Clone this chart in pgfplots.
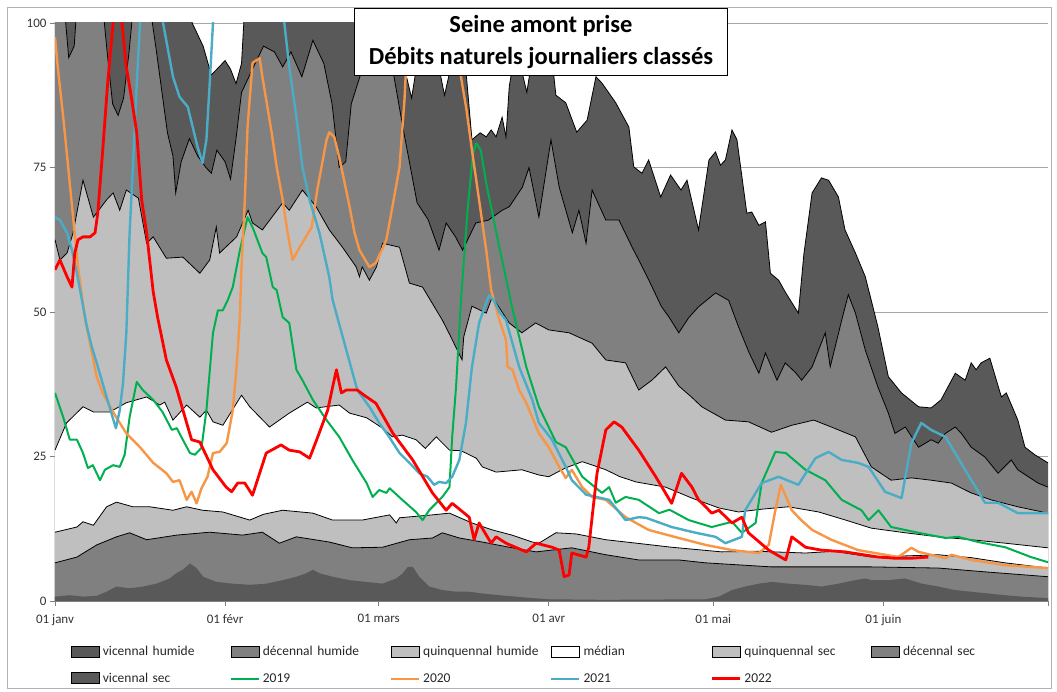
\documentclass[border=0pt]{standalone}
\usepackage{fontspec}
\setmainfont{Carlito}
\usepackage{pgfplots}
\usepackage{pgfplotstable}
\pgfplotsset{compat=1.18}

\definecolor{cDark}{RGB}{89,89,89}
\definecolor{cMid}{RGB}{128,128,128}
\definecolor{cLight}{RGB}{191,191,191}
\definecolor{cNineteen}{RGB}{0,176,80}
\definecolor{cTwenty}{RGB}{247,150,70}
\definecolor{cTwentyOne}{RGB}{75,172,198}
\definecolor{cTwentyTwo}{RGB}{255,0,0}

\pgfplotsset{
  bandleg/.style={legend image code/.code={\draw[##1,draw=black,line width=0.6pt] (0pt,-5pt) rectangle (28pt,6pt);}},
  lineleg/.style={legend image code/.code={\draw[##1] (0pt,0pt) -- (28pt,0pt);}},
}

% day of year (0 = 01 janv), flow
\pgfplotstableread{
day val
0 110
24 110
25 100
27 96
28.5 91
30 92.5
31 93.5
32 92
33 89.5
34 93
35 110
58 110
61 100
63 95
65 87
66.5 96
69 97
71 87.5
73 96
75 90.7
76 79.8
77.5 81
78.6 80.3
79.5 81.5
80.4 80.3
81.5 83.7
82.2 80.3
82.8 89
84 96
86 88
87.5 97
90 99
91.3 87.5
93.1 86.2
95.1 81.1
97 83.2
98.6 90.7
99.7 89.6
102.2 86.2
104.6 82
105.5 75.1
107 74
108.2 76.3
110.4 69.9
112.2 73.7
114.1 71.1
115.2 72.8
117.3 64.2
119.2 76.3
120.4 77.7
121.3 75.4
122.2 76.3
123.4 81.5
124.3 79.8
126.1 67.1
127 67.3
128.3 65
129.5 65.6
130.4 56.7
131.9 55.5
133.2 53.3
135.5 49.8
136.5 60
138 70.6
139.7 73.2
141 72.8
142.8 69.9
144 64.2
145.9 60.2
147.7 56.1
150 47.4
151.9 38.8
154.3 36
157.4 33.6
159.7 33.4
161.5 34.8
164.1 39.4
165.9 38.2
167 41.2
167.9 40
168.8 41.2
170.4 42
172.5 35.3
173.4 36
175.5 31.3
176.8 26.6
178.6 25.3
181 23.9
}\tabVH

\pgfplotstableread{
day val
0 110
1.5 105
2.5 94
3.5 96
4.5 110
8.5 105
9.5 95
10.5 86
11.5 84
12.5 87
13.5 95
14.5 105
17 105
18.5 95
19.5 88
20.5 81
21.5 77
22 70.6
23 76
24.5 80
26 77
27.5 75
28.5 74
29.5 78
31 76
32 73
33 80
34 88
36 92
38 96
40 95
41.5 92.4
43 95
45 90.7
47 97
49 93
50.5 86
51.8 75
53 76
54 86
56 92
58 95
61 95
63.4 82
66 68.9
68 66
70 60.7
71.3 65.4
73 63
74.3 60.7
76.7 65.4
79 65.9
81.5 67.6
82.8 68.2
85.2 71.6
86.4 75
88.2 66.4
90.4 79.8
91.9 71.6
94.3 63.7
95.5 67.6
96.8 61.9
97.9 71.1
100.4 65.9
102.8 65.9
105.2 61.2
106.4 59
108.5 55
110.5 51
112 49
113.7 46.4
115.5 49
117.3 50.9
120.4 53.3
122.8 52
124.6 47.4
126.5 43
128.3 39.4
129.5 42.9
131.6 38.2
133.1 41.2
135 39.5
136.1 38.2
138 40.5
140.4 46.4
141.3 40.5
143.4 48.6
144.6 53
145.9 49.8
147.7 43.4
150 37
151.9 32.5
153.1 29
155 30.1
157.4 26.6
159.7 27.9
161 27.3
162.3 29
164.1 30.1
165.2 29
167 26.6
169.5 24.9
171.9 22.1
174.3 24.4
175.5 22.7
177.4 21.5
179.2 20.4
181 19.7
}\tabDH

\pgfplotstableread{
day val
0 62.5
0.9 59
2.2 60.2
3.3 63.7
5.1 72.8
7 66.4
9.4 69.4
10.6 70.6
11.8 67.6
13 71.1
15.2 69.7
16.7 61.9
17.9 63
20.3 59.3
23.3 59.5
26.4 56.7
28.2 59
29.4 64.7
30 60.2
33.1 63
35.2 67.6
36 65.4
37.8 64.2
41.5 68.9
42.7 67.6
45.1 71.1
47.6 68.2
50 64.2
52.4 61.2
54.9 57.8
55.5 56.1
56 57.8
57.3 55.5
58.6 57.8
59.7 61.9
62.8 61.2
64.6 55
67 54.3
70.6 48.6
72 46
74.2 41.7
74.5 45.7
76 51
78.6 49.8
79.7 52.6
82.8 48.1
85.1 46.4
87.6 48.1
90 46.9
93.7 46.4
97.9 44.6
100.4 41.7
104 41.2
106.4 36.5
108.8 38.2
111.3 40.5
113.7 37.2
116 35.3
117.9 33.6
122.2 31.3
126.4 31
130.6 29.2
134.3 30.4
138.3 31.3
141.5 30.1
145.9 28.4
148.8 23.2
152.4 20.9
156.1 21.3
159.7 20.9
163.4 20.4
167 18.7
170.6 17.5
175.5 16.3
181 15.2
}\tabQH

\pgfplotstableread{
day val
0 26.1
2.1 30.8
5.1 33.6
7 32.7
10 32.7
13 34.3
16.7 35.3
19.1 33.9
20 34.4
21.5 31.3
24 33.9
26.4 31.8
27.6 33
28.8 31
30.6 30.4
34 35.6
35.5 33.6
39.1 30.1
42.7 32.5
46 34.4
47.6 33.4
51.8 33.9
53.7 32.5
56.8 31.7
59.7 29.9
61.5 28.4
63.3 28.7
65.8 27.9
67.5 26.4
69.5 28.4
71.9 26.1
74 26
76.8 24.7
77.9 23.2
80.4 22.3
85.1 22.7
88.2 21.8
90 21.5
93 23
96.1 24.1
98 23.5
100.4 22.7
103 21.5
105.9 20.6
111.3 19.7
116.1 17.8
121 16.1
124.6 15.4
129 15.9
133.7 16.3
139.2 15.4
144.1 14
148.8 12.6
155 11.8
161 11.1
167 10.6
173.2 10
181 9.2
}\tabMed

\pgfplotstableread{
day val
0 11.9
4 12.8
5.1 13.7
7 13.1
9.4 16.3
11.2 17.1
14.2 16.3
17.3 16.3
21.5 15.7
24 16.3
26.9 15.7
30.6 15.4
35.5 14
38 15
41.5 15.7
47 15.2
50.6 14
56 14
61 14.9
62.2 13.5
62.8 14.4
68.8 14.9
71.9 15.2
76 13.5
79.7 12.3
83.3 11.4
87 10.2
88.2 10
91.3 11.8
95 11.6
100.4 10.6
106 10
112.4 9.3
121.5 8.5
128 8.6
136.8 8.3
142 8.6
148.8 7.6
155 7.8
161 8
167 7.5
173.2 6.6
181 5.7
}\tabQS

\pgfplotstableread{
day val
0 6.6
4 7.6
7.6 9.7
11.2 11.1
13.6 11.8
16.7 10.6
22.2 11.4
28.2 11.9
34.2 11.4
37.8 11.9
40.9 10
44 11.1
50 10.2
54.2 9.2
59.7 9.3
64.6 10.6
68.8 10.9
70.6 11.8
73.7 10.9
77.9 10.2
82.8 9.3
87.7 8.5
94.2 9.2
100.4 8
106.4 7.1
113.7 7.1
118.6 6.6
130.6 5.9
138 5.9
148.8 5.9
161 5.7
170.1 5
181 4.2
}\tabDS

\pgfplotstableread{
day val
0 0.75
2.7 1
5.2 0.75
7.6 0.9
9.4 1.6
11.2 2.5
13.6 2.2
16.1 2.5
18.5 3
20.9 3.9
22.1 4.8
23.3 5.4
24.6 6.5
25.8 5.7
27 4.2
29.4 3.3
32.4 3
35.5 2.8
38.5 3
41.5 3.6
44 4.2
45.8 4.8
47 5.4
48.2 4.8
50.6 4.2
53.7 3.6
56.7 3.3
59.7 3
62.2 3.9
63.4 4.8
64.3 5.9
65.2 5.9
66.4 4.2
68.2 2.5
70.6 1.9
73.1 1.6
75.5 1.6
77.9 1.3
81 1
84 0.75
87 0.5
90 0.3
100.4 0.2
118.6 0.3
121 0.75
123.4 1.9
125.8 2.5
128.3 3
130.7 3.3
133.7 3
136.7 2.8
139.8 2.5
142.8 3
145.8 3.6
147.7 3.9
148.9 3.6
151.9 3.6
154.9 3.9
158 3
161 2.5
164 1.9
167 1.6
170.1 1.3
173.1 1
176.2 0.75
181 0.5
}\tabVS

\pgfplotstableread{
day val
0 36
1.5 31.8
2.7 27.9
4 27.9
5.1 25.6
6 23
6.9 23.5
8.2 20.9
9.1 22.7
10.6 23.5
11.8 23.2
12.7 25.3
13.6 31.8
14.9 37.9
16 36.5
17.9 34.8
19.6 32.7
21.3 29.6
22.2 29.9
23.3 27.9
24.6 25.6
25.5 25.3
26.7 26.5
27.6 33
28.8 46.4
29.7 50.3
30.6 50.3
31.5 52.1
32.4 54.3
33.7 60.7
35.1 66.4
36 64.7
37.8 60.2
38.5 59.5
39.7 54.3
40.4 53.8
41.5 49.1
42.7 48.1
44 40
45.1 38.2
47 34.8
49.5 31.3
51.8 28.4
54.2 24.4
56.8 20.4
57.9 18
59.1 19.2
60.4 18.7
61 19.5
63.3 17.5
65.8 15.4
67 14
68.2 15.7
70.6 18
71.9 19.7
72.4 28.4
73.1 37
74 52.1
75.2 67.6
76.2 77.5
76.8 79.2
77.6 78
78.6 72.3
81 61.2
83.3 50.9
85.9 40.5
88.2 33.6
91.3 27.5
93.1 26.6
96.1 21.5
99.7 18.7
101 19.7
102.2 17
104 18
106.4 17.5
108 16.5
110.1 15.2
112 15.8
115.5 14
119.7 12.8
123.4 13.7
125.2 11.8
127.7 13.5
128.8 20.4
131.3 25.8
133.2 25.6
136.8 22.7
140.4 20.9
143.4 17.5
147 15.7
148.3 14
150.1 15.7
152.4 12.8
157.4 11.8
162.3 10.9
164.6 11.1
168.3 10.2
173.2 9.3
177.9 7.6
181 6.7
}\lineNineteen

\pgfplotstableread{
day val
0 97.6
0.5 92.4
1.5 83.7
2.4 75.1
3.3 66.4
4.2 57.8
5.5 48.6
5.8 47.4
7.6 38.8
8.7 36
10.9 32.2
13 29
15.5 26.6
17.9 23.9
20.3 22.1
21.5 20.6
22.7 20.9
24 17.5
24.9 18.9
25.8 16.9
26.7 19.5
27.8 21.5
28.8 25.6
30 25.8
31.3 27.3
32.4 33
33.1 40.5
33.7 49.1
34 57.8
34.6 69.4
35.1 82
36 93.1
37.3 93.9
37.8 90.7
39.5 81
40.4 75.1
41.5 69.4
42.4 63.7
43.3 59
44.6 61.2
46.8 64.7
47.8 71.1
49.5 79.8
50 81.1
50.9 80.3
51.8 76.8
52.8 72.3
53.7 68.2
54.6 63.7
55.5 60.7
57.3 57.8
58.5 58.5
60.4 62.5
61.5 68.2
62.8 75.1
63.7 86.7
64 92.4
65 105
72 105
74 90.7
75 85
76 78
77.3 69.4
78.6 60.7
79.5 53.8
81 48.6
82.2 45.2
82.5 40.5
83.4 40
84.6 36.5
85.9 34.3
88.2 29
90 26.6
91.9 23.2
93.1 21.3
94.2 22.7
96.1 19.7
97.9 18
100.4 17.5
104 14.5
108.2 12.3
113.7 10.9
118.6 9.7
123.4 8.8
128.3 8.3
130.1 9.7
131.3 15.7
132.3 20.1
134.3 15.7
136 14
138 12.3
141.5 10.6
146.4 8.8
151.3 8
153.7 7.6
156.1 9.2
157.4 8.5
162.3 7.4
163.4 8
167 7.1
173.2 6.2
181 5.7
}\lineTwenty

\pgfplotstableread{
day val
0 66.4
0.9 65.9
2.2 63.7
3.1 60.7
4 56.7
5.8 47.5
6.7 44
7.6 41.2
9.4 35.3
11.1 29.9
11.8 33
12.4 37.7
13 46.4
13.6 63.7
14.2 75.1
14.9 89.6
15.5 100
16 110
19 110
19.7 100
21.5 90.7
22.7 87.2
24.2 85.5
25.1 82
26 78.5
26.9 75.8
27.6 79.8
28.2 89.6
28.8 100
29.3 110
41.2 110
41.8 100
42.7 92.4
44 83.7
45.1 75.1
46.4 69.4
48.2 63.7
50 56
50.6 52.1
53.1 43.4
55.1 36.5
57.3 33.6
59.1 30.8
60.9 28.4
62.8 25.6
64.6 23.9
66.4 22.1
67.9 21.5
69.1 20.1
70 20.6
71.3 20.4
72.4 21.5
73.7 24.4
74.9 30.8
76 40.5
77.3 48.1
78.6 51.6
79.1 52.9
80 52
81 50
82.2 48.6
84.6 40.5
87 34.8
88.2 30.8
90.6 27.9
93.1 23.2
94.2 20.9
96.8 18.4
101 17.5
104 14
106.4 14.5
107.7 14.4
112.4 12.8
116.8 11.8
120.4 11.1
122.2 10
125.2 11.1
125.8 15.7
128.8 20.4
131.9 21.5
135.5 20.1
138.6 24.7
141 25.8
143.4 24.4
146.4 23.9
148.3 23.2
151.3 18.9
154.3 17.8
156.1 27.3
157.9 30.8
159.7 29.6
162.3 28.4
165.9 22.7
169.5 17
171.9 17
175.5 15.2
181 15.2
}\lineTwentyOne

\pgfplotstableread{
day val
0 57.3
0.9 59
2.2 56.1
3.1 54.3
3.6 60.2
4.2 62.5
5.1 63
6.4 63
7.3 63.7
7.8 67.1
8.7 78
9.6 89.6
10.6 100
11.3 105
12.2 100
13 92.4
14 86.7
14.9 81
15.8 69.4
16.7 63.7
17.9 53.5
18.7 49.1
20.3 41.7
22.1 37
24 30.8
24.9 27.9
26.4 27.5
28.8 22.7
31.2 19.7
32.2 18.9
33.3 20.4
34.6 20.4
36 18.3
37.3 22.1
38.5 25.6
41.2 27
42.7 26.1
44.6 25.8
46.4 24.7
47.7 27.9
49.7 33
50.6 37
51.3 40
52.2 36
53.1 36.5
55.1 36.5
56.5 35.5
58.5 34.2
61.6 29
65.2 24.4
68.8 18.7
71.3 15.7
72.4 16.9
75.5 14.5
76.4 10.6
77.3 13.5
79.5 10
80.4 11.1
82.2 10
85.9 8.5
87.7 10
90.6 9.3
91.9 8.8
92.8 4.2
93.7 4.5
94.2 8.3
96.8 7.6
97.3 9.3
97.9 14.5
98.8 22.1
100.4 29.6
101.9 31
103.3 30.1
106.4 26.1
109.5 21.5
112.4 16.9
114.2 22.1
116.1 19.7
117.3 17.5
118.6 16.3
119.7 15.2
121 15.7
123.4 13.5
125.2 14.5
126.4 11.8
130.1 8.8
133.2 7.1
134.3 11.1
136.8 9.3
139.7 8.8
144 8.5
150.1 7.6
153.1 7.4
156.1 7.4
159.2 7.6
}\lineTwentyTwo

\begin{document}
\begin{tikzpicture}[x=1pt,y=1pt]
\useasboundingbox (-55,-91) rectangle (1002,601);
\draw[gray!60, line width=0.8pt] (-48,-87) rectangle (996,594);
\begin{axis}[
    at={(0,0)}, anchor=south west,
    scale only axis,
    width=993pt, height=578pt,
    xmin=0, xmax=181, ymin=0, ymax=100,
    axis x line*=bottom, axis y line*=left,
    axis line style={gray, line width=0.8pt},
    xtick={0,31,59,90,120,151,181},
    xticklabels={01 janv,01 févr,01 mars,01 avr,01 mai,01 juin,{}},
    ytick={0,25,50,75,100},
    ymajorgrids,
    grid style={gray!70, line width=0.8pt},
    tick align=outside,
    major tick length=5pt,
    tick style={gray, line width=0.8pt},
    ticklabel style={font=\fontsize{13}{15}\selectfont, text=black!80},
    xticklabel style={yshift=-5pt},
    /pgf/number format/assume math mode=true,
    legend columns=6,
    legend cell align=left,
    legend style={
        at={(0.0131,-0.073)}, anchor=north west,
        draw=none, fill=none,
        font=\fontsize{13.5}{16}\selectfont, text=black!85,
        nodes={text width=124pt, inner xsep=3pt, inner ysep=1pt},
        row sep=14pt,
    },
]
\addplot[fill=cDark, draw=none, bandleg] table[x=day,y=val]{\tabVH} \closedcycle;
\addlegendentry{vicennal humide}
\addplot[black, line width=0.8pt, forget plot] table[x=day,y=val]{\tabVH};

\addplot[fill=cMid, draw=none, bandleg] table[x=day,y=val]{\tabDH} \closedcycle;
\addlegendentry{décennal humide}
\addplot[black, line width=0.8pt, forget plot] table[x=day,y=val]{\tabDH};

\addplot[fill=cLight, draw=none, bandleg] table[x=day,y=val]{\tabQH} \closedcycle;
\addlegendentry{quinquennal humide}
\addplot[black, line width=0.8pt, forget plot] table[x=day,y=val]{\tabQH};

\addplot[fill=white, draw=none, bandleg] table[x=day,y=val]{\tabMed} \closedcycle;
\addlegendentry{médian}
\addplot[black, line width=0.8pt, forget plot] table[x=day,y=val]{\tabMed};

\addplot[fill=cLight, draw=none, bandleg] table[x=day,y=val]{\tabQS} \closedcycle;
\addlegendentry{quinquennal sec}
\addplot[black, line width=0.8pt, forget plot] table[x=day,y=val]{\tabQS};

\addplot[fill=cMid, draw=none, bandleg] table[x=day,y=val]{\tabDS} \closedcycle;
\addlegendentry{décennal sec}
\addplot[black, line width=0.8pt, forget plot] table[x=day,y=val]{\tabDS};

\addplot[fill=cDark, draw=none, bandleg] table[x=day,y=val]{\tabVS} \closedcycle;
\addlegendentry{vicennal sec}

\addplot[cNineteen, line width=2pt, line join=round, lineleg] table[x=day,y=val]{\lineNineteen};
\addlegendentry{2019}
\addplot[cTwenty, line width=2.4pt, line join=round, lineleg] table[x=day,y=val]{\lineTwenty};
\addlegendentry{2020}
\addplot[cTwentyOne, line width=2.4pt, line join=round, lineleg] table[x=day,y=val]{\lineTwentyOne};
\addlegendentry{2021}
\addplot[cTwentyTwo, line width=2.8pt, line join=round, lineleg] table[x=day,y=val]{\lineTwentyTwo};
\addlegendentry{2022}
\end{axis}
\node[draw=black, line width=0.8pt, fill=white, minimum width=373pt, minimum height=67pt,
      align=center, anchor=north, inner sep=0pt,
      font=\fontsize{24.5}{32}\selectfont\bfseries] at (486,593)
      {Seine amont prise\\Débits naturels journaliers classés};
\end{tikzpicture}
\end{document}
